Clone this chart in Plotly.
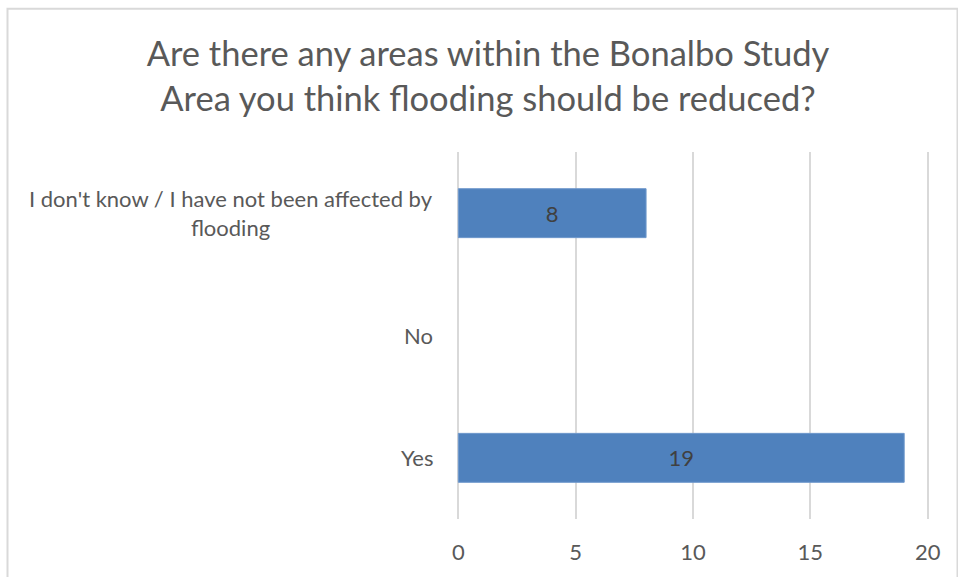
import plotly.graph_objects as go

categories = ["Yes", "No", "I don't know / I have not been affected by<br>flooding"]
values = [19, 0, 8]
x_ticks = [0, 5, 10, 15, 20]
title_text = "Are there any areas within the Bonalbo Study<br>Area you think flooding should be reduced?"

W, H = 958, 577
L, R, T, B = 456, 28, 152, 55
pw, ph = W - L - R, H - T - B

def px_x(p):
    return (p - L) / pw

def px_y(p):
    return (H - B - p) / ph

FONT = "Lato"
GRAY = "#595959"

fig = go.Figure()
fig.add_trace(go.Bar(
    y=categories,
    x=values,
    orientation="h",
    marker=dict(color="#4F81BD",
                line=dict(color="#6F98CC", width=[1 if v else 0 for v in values])),
    text=[str(v) if v else "" for v in values],
    textposition="inside",
    insidetextanchor="middle",
    textfont=dict(family=FONT, size=22, color="#404040"),
    width=0.4,
    hoverinfo="skip",
))

annotations = []
for c in categories:
    annotations.append(dict(
        x=px_x(435), xref="paper", y=c, yref="y",
        text=c, showarrow=False, xanchor="right", yanchor="middle",
        align="center", font=dict(family=FONT, size=22, color=GRAY),
    ))

fig.update_layout(
    width=W, height=H,
    margin=dict(l=L, r=R, t=T, b=B),
    paper_bgcolor="white",
    plot_bgcolor="white",
    showlegend=False,
    title=dict(
        text=title_text,
        x=488 / W, xanchor="center",
        y=1 - 66 / H, yanchor="middle",
        font=dict(family=FONT, size=34.5, color=GRAY),
    ),
    xaxis=dict(
        range=[-0.1, 20.1],
        tickvals=x_ticks,
        showgrid=True, gridcolor="#D9D9D9", gridwidth=2,
        zeroline=False, showline=False,
        tickfont=dict(family=FONT, size=22, color=GRAY),
        ticks="", ticklabelstandoff=18,
        fixedrange=True,
    ),
    yaxis=dict(
        categoryorder="array", categoryarray=categories,
        showticklabels=False, showgrid=False, zeroline=False, showline=False,
        range=[-0.5, 2.5],
        fixedrange=True,
    ),
    annotations=annotations,
    shapes=[
        dict(type="rect", xref="paper", yref="paper",
             x0=px_x(7.5), x1=px_x(957.5), y0=px_y(590), y1=px_y(7.5),
             line=dict(color="#D9D9D9", width=2), fillcolor="rgba(0,0,0,0)",
             layer="below"),
    ],
)

fig.write_html("out.html", config={"displayModeBar": False},
               post_script="document.body.style.margin='0px';")
